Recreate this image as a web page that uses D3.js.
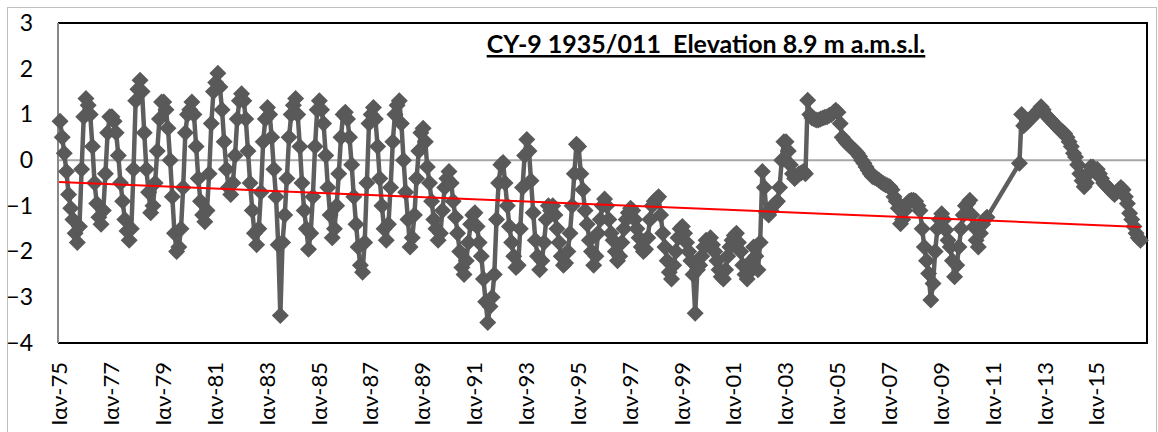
<!DOCTYPE html>
<html>
<head>
<meta charset="utf-8">
<script src="https://cdn.jsdelivr.net/npm/d3@7.9.0/dist/d3.min.js"></script>
<style>
  body { margin: 0; background: #fff; }
  svg text { font-family: Lato, 'Open Sans', sans-serif; }
</style>
</head>
<body>
<svg id="chart" width="1158" height="432"></svg>
<script>
// DATA

const title = 'CY-9 1935/011  Elevation 8.9 m a.m.s.l.';

const years = [
  1975, 1976, 1977, 1978, 1979, 1980, 1981, 1982, 1983, 1984,
  1985, 1986, 1987, 1988, 1989, 1990, 1991, 1992, 1993, 1994,
  1995, 1996, 1997, 1998, 1999, 2000, 2001, 2002, 2003, 2004,
  2005, 2006, 2007, 2008, 2009, 2010, 2011, 2012, 2013, 2014,
  2015, 2016
];

// water level (m), one row per year, Jan..Dec; null = no reading
const levels = [
  [0.85, 0.5, 0.15, -0.25, -0.75, -1.05, -1.3, -1.6, -1.8, -1.45, -0.2, 0.95],
  [1.35, 1.2, 1.0, 0.3, -0.5, -0.95, -1.25, -1.4, -1.1, -0.3, 0.6, 0.95],
  [0.95, 0.85, 0.6, 0.1, -0.5, -0.9, -1.3, -1.55, -1.75, -1.5, -0.2, 1.3],
  [1.55, 1.75, 1.5, 0.6, -0.2, -0.7, -1.15, -1.0, -0.5, 0.2, 0.9, 1.27],
  [1.27, 1.1, 0.7, 0.0, -0.8, -1.6, -2.0, -1.9, -1.5, -0.6, 0.6, 1.0],
  [1.1, 1.27, 1.0, 0.3, -0.4, -0.9, -1.2, -1.35, -1.1, -0.3, 0.8, 1.5],
  [1.7, 1.9, 1.6, 1.1, 0.4, -0.2, -0.6, -0.75, -0.5, 0.1, 0.9, 1.3],
  [1.45, 1.3, 0.9, 0.2, -0.5, -1.1, -1.6, -1.85, -1.5, -0.7, 0.4, 0.9],
  [1.15, 1.0, 0.5, -0.2, -0.8, -1.85, -3.4, -1.8, -1.2, -0.4, 0.5, 1.0],
  [1.2, 1.35, 1.0, 0.3, -0.5, -1.1, -1.5, -1.95, -1.6, -0.8, 0.3, 1.1],
  [1.3, 1.1, 0.8, 0.1, -0.6, -1.2, -1.7, -1.5, -1.0, -0.3, 0.5, 1.0],
  [1.05, 0.9, 0.5, -0.1, -0.8, -1.4, -1.9, -2.3, -2.45, -1.8, -0.5, 0.8],
  [1.0, 1.15, 0.9, 0.3, -0.4, -1.0, -1.5, -1.75, -1.4, -0.6, 0.4, 1.0],
  [1.2, 1.3, 0.8, 0.0, -0.7, -1.3, -1.9, -1.7, -1.2, -0.4, 0.2, 0.6],
  [0.7, 0.4, -0.15, -0.5, -0.9, -1.3, -1.5, -1.75, -1.6, -1.1, -0.6, -0.4],
  [-0.25, -0.5, -0.9, -1.25, -1.6, -2.0, -2.35, -2.5, -2.2, -1.8, -1.4, -1.2],
  [-1.15, -1.45, -1.8, -2.1, -2.6, -3.1, -3.55, -3.2, -3.0, -2.5, -1.3, -0.5],
  [-0.1, -0.05, -0.5, -1.0, -1.45, -1.8, -2.1, -2.35, -2.3, -1.5, -0.6, 0.1],
  [0.45, 0.2, -0.45, -1.15, -1.75, -2.1, -2.4, -2.2, -1.8, -1.3, -1.0, -1.1],
  [-1.0, -1.2, -1.5, -1.8, -2.1, -2.3, -2.25, -2.0, -1.6, -1.0, -0.3, 0.35],
  [0.3, -0.3, -0.65, -1.1, -1.4, -1.75, -2.0, -2.3, -2.1, -1.6, -1.3, -1.0],
  [-0.85, -1.0, -1.3, -1.6, -1.75, -2.0, -2.2, -2.1, -1.8, -1.5, -1.3, -1.15],
  [-1.05, -1.1, -1.3, -1.5, -1.7, -1.9, -2.0, -1.95, -1.7, -1.3, -1.0, -0.9],
  [-0.85, -0.8, -1.2, -1.6, -1.9, -2.2, -2.45, -2.6, -2.3, -2.0, -1.7, -1.5],
  [-1.45, -1.6, -1.8, -2.0, -2.2, -2.5, -3.35, -2.4, -2.3, -2.1, -1.9, -1.75],
  [-1.8, -1.7, -1.85, -2.0, -2.2, -2.4, -2.55, -2.6, -2.4, -2.1, -1.9, -1.75],
  [-1.65, -1.6, -1.8, -2.0, -2.3, -2.5, -2.6, -2.45, -2.2, -1.9, -2.1, -2.4],
  [-1.8, -0.25, -0.6, -1.15, -1.2, -1.1, -1.0, -0.95, -0.9, -0.6, 0.0, 0.4],
  [0.4, 0.2, -0.1, -0.3, -0.4, -0.35, -0.3, -0.28, -0.25, -0.3, 1.31, 1.0],
  [0.92, 0.9, 0.88, 0.88, 0.9, 0.92, 0.94, 0.95, 0.98, 1.0, 1.05, 1.09],
  [1.05, 0.8, 0.5, 0.44, 0.38, 0.33, 0.29, 0.25, 0.2, 0.15, 0.08, 0.0],
  [-0.07, -0.15, -0.22, -0.3, -0.36, -0.38, -0.4, -0.44, -0.48, -0.51, -0.54, -0.56],
  [-0.58, -0.65, -0.8, -0.9, -1.05, -1.39, -1.3, -1.1, -0.95, -0.9, -0.88, -0.88],
  [-0.9, -1.0, -1.1, -1.5, -1.9, -2.2, -2.48, -3.06, -2.7, -2.0, -1.5, -1.3],
  [-1.17, -1.3, -1.53, -1.75, -1.9, -2.2, -2.55, -2.3, -1.9, -1.5, -1.2, -1.0],
  [-0.95, -0.88, -1.2, -1.46, -1.75, -1.9, -1.6, -1.4, -1.3, -1.25, null, null],
  [null, null, null, null, null, null, null, null, null, null, null, null],
  [-0.07, 1.0, 0.75, 0.8, 0.85, 0.9, 0.95, 1.0, 1.05, 1.1, 1.17, 1.1],
  [1.0, 0.95, 0.9, 0.85, 0.8, 0.75, 0.7, 0.65, 0.62, 0.58, 0.5, 0.4],
  [0.3, 0.15, 0.07, -0.1, -0.3, -0.45, -0.58, -0.5, -0.3, -0.15, -0.15, -0.25],
  [-0.2, -0.3, -0.4, -0.5, -0.55, -0.6, -0.65, -0.7, -0.75, -0.7, -0.65, -0.6],
  [-0.65, -0.8, -0.95, -1.16, -1.3, -1.45, -1.6, -1.7, -1.75, null, null, null]
];

// linear trend end points
const trendDates = ['1975-01-01', '2016-09-15'];
const trendValues = [-0.48, -1.46];

const yTicks = [-4, -3, -2, -1, 0, 1, 2, 3];
const tickYears = [1975, 1977, 1979, 1981, 1983, 1985, 1987, 1989, 1991, 1993, 1995,
  1997, 1999, 2001, 2003, 2005, 2007, 2009, 2011, 2013, 2015];
const tickLabels = ['Ιαν-75', 'Ιαν-77', 'Ιαν-79', 'Ιαν-81', 'Ιαν-83', 'Ιαν-85', 'Ιαν-87',
  'Ιαν-89', 'Ιαν-91', 'Ιαν-93', 'Ιαν-95', 'Ιαν-97', 'Ιαν-99', 'Ιαν-01', 'Ιαν-03',
  'Ιαν-05', 'Ιαν-07', 'Ιαν-09', 'Ιαν-11', 'Ιαν-13', 'Ιαν-15'];

// build points (gaps are simply skipped, so the line joins across them)
let points = years.flatMap((yr, i) =>
  levels[i].map((v, m) => ({ date: new Date(yr, m, 15), value: v }))
).filter((d) => d.value !== null);

let trend = trendDates.map((d, i) => ({ date: new Date(d), value: trendValues[i] }));

// CHART

const plotL = 58, plotR = 1147, plotT = 23, plotB = 343;

let svg = d3.select('#chart');

let x = d3.scaleTime()
  .domain([new Date(1974, 11, 17), new Date(2016, 11, 16)])
  .range([plotL, plotR]);

let y = d3.scaleLinear().domain([-4, 3]).range([plotB, plotT]);

// outer chart border
svg.append('rect')
  .attr('x', 7.5).attr('y', 7.5)
  .attr('width', 1149).attr('height', 440)
  .attr('fill', 'none')
  .attr('stroke', '#c0c0c0');

// horizontal axis line at zero
svg.append('line')
  .attr('x1', plotL).attr('x2', plotR)
  .attr('y1', y(0)).attr('y2', y(0))
  .attr('stroke', '#a6a6a6')
  .attr('stroke-width', 2);

// plot area frame
svg.append('path')
  .attr('d', `M${plotL},${plotT}H${plotR}V${plotB}H${plotL}`)
  .attr('fill', 'none')
  .attr('stroke', '#000')
  .attr('stroke-width', 2);

svg.append('line')
  .attr('x1', plotL).attr('x2', plotL)
  .attr('y1', plotT).attr('y2', plotB)
  .attr('stroke', '#888')
  .attr('stroke-width', 2);

// y axis labels
svg.append('g')
  .attr('transform', `translate(${plotL},0)`)
  .call(d3.axisLeft(y).tickValues(yTicks).tickSize(0).tickPadding(25).tickFormat(d3.format('d')))
  .call((g) => g.select('.domain').remove())
  .selectAll('text')
  .attr('font-size', 23)
  .attr('fill', '#000');

// x axis labels, rotated
svg.append('g')
  .attr('transform', `translate(0,${plotB})`)
  .call(d3.axisBottom(x)
    .tickValues(tickYears.map((yr) => new Date(yr, 0, 1)))
    .tickFormat((d, i) => tickLabels[i])
    .tickSize(0))
  .call((g) => g.select('.domain').remove())
  .selectAll('text')
  .attr('font-size', 22)
  .attr('fill', '#000')
  .attr('transform', 'rotate(-90)')
  .attr('x', -19)
  .attr('y', 0)
  .attr('dy', '0.35em')
  .style('text-anchor', 'end');

svg.selectAll('.tick text').style('font-family', "Lato, 'Open Sans', sans-serif");

// series line
let line = d3.line().x((d) => x(d.date)).y((d) => y(d.value));

svg.append('path')
  .datum(points)
  .attr('d', line)
  .attr('fill', 'none')
  .attr('stroke', '#5e5e5e')
  .attr('stroke-width', 4.5)
  .attr('stroke-linejoin', 'round');

// diamond markers
const r = 8.5;
svg.append('g')
  .selectAll('path')
  .data(points)
  .join('path')
  .attr('d', `M0,${-r}L${r},0L0,${r}L${-r},0Z`)
  .attr('transform', (d) => `translate(${x(d.date)},${y(d.value)})`)
  .attr('fill', '#595959');

// trend line
svg.append('path')
  .datum(trend)
  .attr('d', line)
  .attr('fill', 'none')
  .attr('stroke', '#ff0000')
  .attr('stroke-width', 2);

// title
svg.append('text')
  .attr('x', 706)
  .attr('y', 53)
  .attr('text-anchor', 'middle')
  .attr('font-size', 25)
  .attr('font-weight', 'bold')
  .style('text-decoration', 'underline')
  .style('white-space', 'pre')
  .text(title);
</script>
</body>
</html>
